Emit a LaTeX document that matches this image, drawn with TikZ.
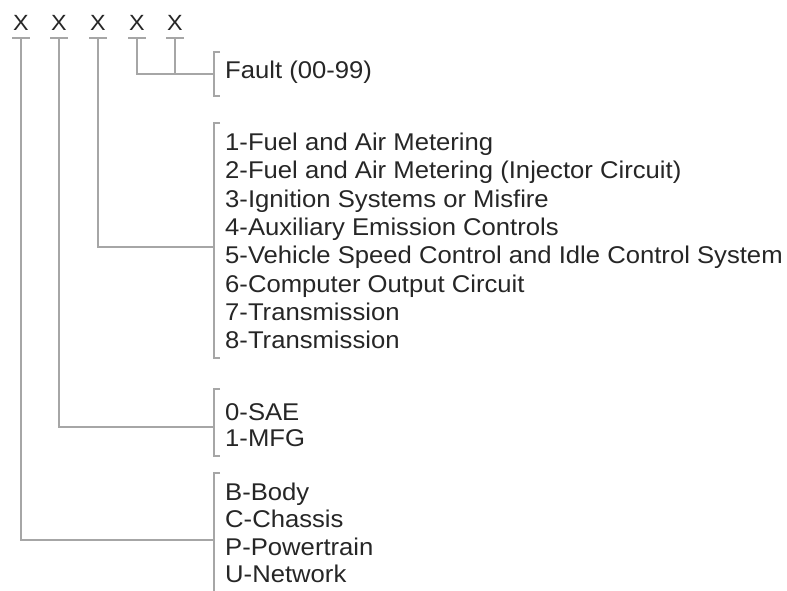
\documentclass[tikz,border=0pt]{standalone}
\usepackage{fontspec}
\setmainfont{Liberation Sans}[FakeStretch=1.06]
\begin{document}
\begin{tikzpicture}[x=1pt,y=-1pt]
  \useasboundingbox (0,0) rectangle (787,591);
  \tikzset{wire/.style={draw=gray!70, line width=1.2pt}}

  \begin{scope}[every node/.style={anchor=south, inner sep=0pt, inner ysep=7pt, text depth=0pt, text=black!85, font=\fontsize{22}{26}\selectfont}]
    \node (1) at (21,38)  {X};
    \node (2) at (59,38)  {X};
    \node (3) at (98,38)  {X};
    \node (4) at (137,38) {X};
    \node (5) at (175,38) {X};
  \end{scope}

  \begin{scope}[every node/.style={anchor=base west, inner sep=0pt, text=black!85, font=\fontsize{24.2}{28}\selectfont}]
    \node (f)  at (225,79)  {Fault (00-99)};
    \node (m1) at (225,150) {1-Fuel and Air Metering};
    \node (m2) at (225,178.5) {2-Fuel and Air Metering (Injector Circuit)};
    \node (m3) at (225,207) {3-Ignition Systems or Misfire};
    \node (m4) at (225,235.5) {4-Auxiliary Emission Controls};
    \node (m5) at (225,263.5) {5-Vehicle Speed Control and Idle Control System};
    \node (m6) at (225,292) {6-Computer Output Circuit};
    \node (m7) at (225,320) {7-Transmission};
    \node (m8) at (225,348.5) {8-Transmission};
    \node (s0) at (225,420.5) {0-SAE};
    \node (s1) at (225,446.5) {1-MFG};
    \node (b)  at (225,500) {B-Body};
    \node (c)  at (225,527) {C-Chassis};
    \node (p)  at (225,555) {P-Powertrain};
    \node (u)  at (225,582) {U-Network};
  \end{scope}

  % brackets
  \draw[wire] (220,52)  -- (214,52)  -- (214,96)  -- (220,96);
  \draw[wire] (220,123) -- (214,123) -- (214,358) -- (220,358);
  \draw[wire] (220,389) -- (214,389) -- (214,456) -- (220,456);
  \draw[wire] (220,473) -- (214,473) -- (214,591);
  \coordinate (kf) at (214,74);
  \coordinate (km) at (214,247);
  \coordinate (ks) at (214,427);
  \coordinate (kp) at (214,540);

  % ticks under the digits
  \foreach \n in {1,...,5}
    \draw[wire] ([xshift=-9pt]\n.south) -- ([xshift=9pt]\n.south);

  \draw[wire] (1.south) |- (kp);
  \draw[wire] (2.south) |- (ks);
  \draw[wire] (3.south) |- (km);
  \draw[wire] (4.south) |- (kf);
  \draw[wire] (5.south) -- (5.south |- kf);

\end{tikzpicture}
\end{document}
